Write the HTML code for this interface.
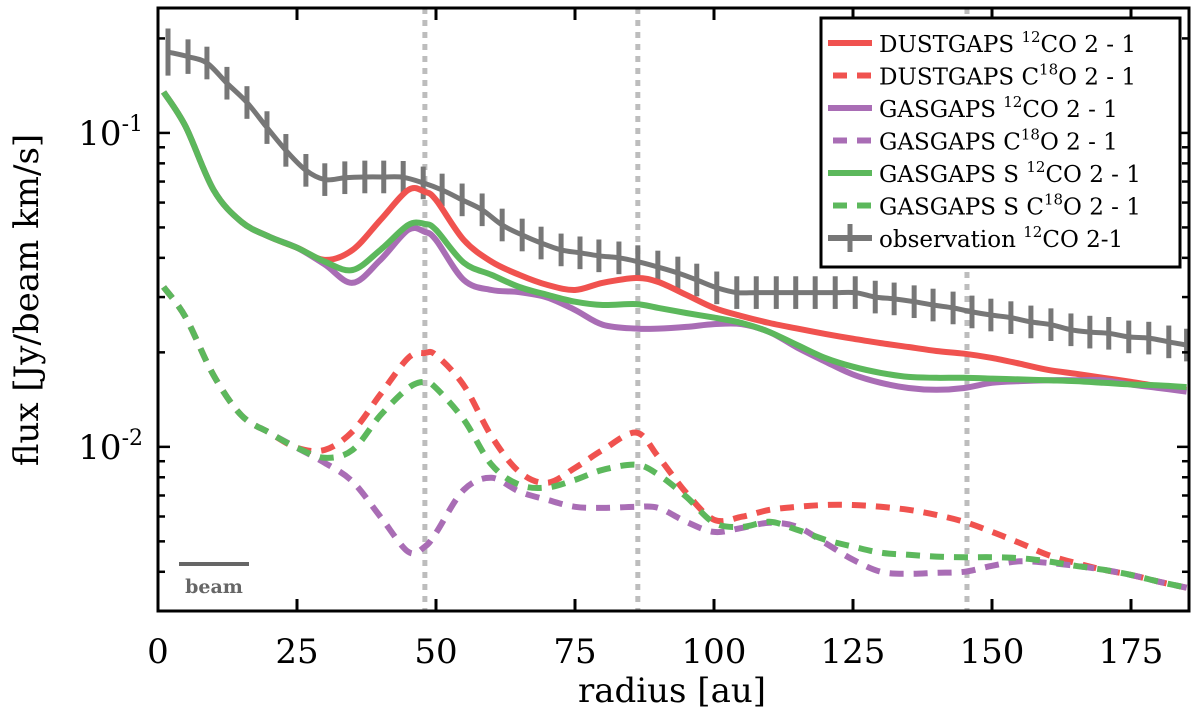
<!DOCTYPE html>
<html><head><meta charset="utf-8"><style>
body{margin:0;background:#fff;}
svg{display:block;font-family:"DejaVu Serif","Liberation Serif",serif;}
</style></head><body>
<svg id="chart" width="1200" height="722" viewBox="0 0 1200 722" xmlns="http://www.w3.org/2000/svg"></svg>
<script>
const radiusGrid = [1,5,10,15,20,25,30,35,40,45,48,50,55,60,65,70,75,80,86,90,95,100,105,110,115,120,125,130,135,140,145,150,155,160,165,170,175,180,185];
const dust12 = [0.135,0.1045,0.0658,0.0521,0.0467,0.0431,0.0394,0.0424,0.0528,0.0658,0.0649,0.0612,0.0456,0.0389,0.0353,0.0328,0.0316,0.0333,0.0345,0.0335,0.0305,0.0277,0.0261,0.0248,0.0238,0.0229,0.0221,0.0214,0.0208,0.0202,0.0198,0.0192,0.0184,0.0176,0.0171,0.0166,0.0161,0.0156,0.0152];
const gas12 = [0.135,0.1045,0.0658,0.0521,0.0467,0.0431,0.0381,0.0333,0.0394,0.0491,0.0484,0.0456,0.0340,0.0316,0.0311,0.0299,0.0273,0.0245,0.0238,0.0238,0.0241,0.0246,0.0246,0.0232,0.0207,0.0187,0.0170,0.0160,0.0154,0.0152,0.0154,0.0160,0.0162,0.0163,0.0163,0.0163,0.0158,0.0154,0.0150];
const gasS12 = [0.135,0.1045,0.0658,0.0521,0.0467,0.0431,0.0389,0.0366,0.0424,0.0509,0.0513,0.0491,0.0386,0.0353,0.0323,0.0305,0.0290,0.0283,0.0285,0.0277,0.0267,0.0258,0.0248,0.0232,0.0211,0.0192,0.0180,0.0172,0.0167,0.0166,0.0166,0.0165,0.0164,0.0163,0.0162,0.0160,0.0158,0.0157,0.0155];
const dust18 = [0.0323,0.0258,0.0169,0.0126,0.0111,0.00993,0.00978,0.0112,0.0147,0.0192,0.0199,0.0196,0.0157,0.0108,0.00832,0.00768,0.00857,0.00978,0.0111,0.00929,0.00714,0.00586,0.00599,0.00630,0.00644,0.00653,0.00653,0.00644,0.00630,0.00607,0.00577,0.00536,0.00494,0.00453,0.00427,0.00406,0.00391,0.00372,0.00356];
const gas18 = [0.0323,0.0258,0.0169,0.0126,0.0111,0.00993,0.00889,0.00775,0.00599,0.00463,0.00481,0.00532,0.00730,0.00797,0.00720,0.00678,0.00644,0.00639,0.00644,0.00639,0.00577,0.00536,0.00552,0.00573,0.00556,0.00494,0.00437,0.00400,0.00394,0.00397,0.00400,0.00418,0.00432,0.00427,0.00418,0.00406,0.00391,0.00372,0.00356];
const gasS18 = [0.0323,0.0258,0.0169,0.0126,0.0111,0.00993,0.00923,0.00978,0.0126,0.0154,0.0161,0.0154,0.0122,0.00877,0.00757,0.00742,0.00785,0.00845,0.00877,0.00815,0.00694,0.00573,0.00556,0.00577,0.00544,0.00506,0.00481,0.00460,0.00453,0.00447,0.00445,0.00445,0.00442,0.00432,0.00418,0.00406,0.00391,0.00372,0.00356];
const obsRadius = [1.8,5.4,8.8,12.4,16,19.6,23,26.6,30,33.6,37.2,40.6,44.1,47.7,51.1,54.7,58.3,61.9,65.5,68.9,72.5,75.9,79.3,82.9,86.3,89.9,93.5,96.9,100.5,104.1,107.6,111.2,114.7,118.2,121.8,125.4,129,132.4,136,139.4,143,146.4,149.8,153.4,157,160.6,164.2,167.6,171,174.6,178.2,181.8,185];
const obsFlux = [0.181,0.175,0.167,0.144,0.125,0.104,0.088,0.076,0.071,0.072,0.0724,0.0724,0.0722,0.0693,0.0658,0.0612,0.0569,0.0509,0.0473,0.0446,0.0424,0.0415,0.0406,0.0400,0.0389,0.0374,0.0358,0.0340,0.0321,0.0310,0.0310,0.0310,0.0310,0.0310,0.0310,0.0310,0.0300,0.0296,0.0290,0.0283,0.0277,0.0269,0.0263,0.0258,0.0250,0.0245,0.0236,0.0232,0.0230,0.0224,0.0222,0.0216,0.0211];
const obsErrDex = [0.075,0.055,0.052,0.052,0.052,0.052,0.052,0.052,0.052,0.052,0.052,0.052,0.052,0.052,0.052,0.052,0.052,0.052,0.052,0.052,0.052,0.052,0.052,0.052,0.052,0.052,0.052,0.052,0.052,0.052,0.052,0.052,0.052,0.052,0.052,0.052,0.052,0.052,0.052,0.052,0.052,0.052,0.052,0.052,0.052,0.052,0.052,0.052,0.052,0.052,0.052,0.052,0.052];
const gapRadii = [48,86.3,145.5];
const xTicks = [0,25,50,75,100,125,150,175];
const yMajor = [0.01,0.1];
const yMajorExp = ["-2","-1"];

const L=158,R=1189,T=8,B=611;
const X0=0,X1=(R-L)/5.56;
const LY0=Math.log10(0.003), LY1=Math.log10(0.25);
const xs=v=>L+(v-X0)/(X1-X0)*(R-L);
const ys=v=>B-(Math.log10(v)-LY0)/(LY1-LY0)*(B-T);
const svg=document.getElementById('chart');
const NS='http://www.w3.org/2000/svg';
function mk(tag,attrs,parent){const e=document.createElementNS(NS,tag);for(const k in attrs)e.setAttribute(k,attrs[k]);(parent||svg).appendChild(e);return e;}

const clip=mk('clipPath',{id:'pc'});mk('rect',{x:L,y:T,width:R-L,height:B-T},clip);
const plot=mk('g',{'clip-path':'url(#pc)'});



gapRadii.forEach((g,i)=>{
  const l=mk('line',{x1:xs(g),x2:xs(g),y1:T,y2:B,stroke:'#bdbdbd','stroke-width':5,'stroke-dasharray':'6 6'},plot);
  
  
});

function path(xa,ya){return xa.map((x,i)=>(i?'L':'M')+xs(x).toFixed(1)+','+ys(ya[i]).toFixed(1)).join('');}
function smooth(xa,ya){
  const p=xa.map((x,i)=>[xs(x),ys(ya[i])]);
  let d='M'+p[0][0].toFixed(1)+','+p[0][1].toFixed(1);
  for(let i=0;i<p.length-1;i++){
    const p0=p[Math.max(0,i-1)],p1=p[i],p2=p[i+1],p3=p[Math.min(p.length-1,i+2)];
    const c1=[p1[0]+(p2[0]-p0[0])/6,p1[1]+(p2[1]-p0[1])/6];
    const c2=[p2[0]-(p3[0]-p1[0])/6,p2[1]-(p3[1]-p1[1])/6];
    d+='C'+c1[0].toFixed(1)+','+c1[1].toFixed(1)+' '+c2[0].toFixed(1)+','+c2[1].toFixed(1)+' '+p2[0].toFixed(1)+','+p2[1].toFixed(1);
  }
  return d;
}

// observation
const og=mk('g',{},plot);


mk('path',{d:smooth(obsRadius,obsFlux),fill:'none',stroke:'#777','stroke-width':5,'stroke-linejoin':'round'},og);
obsRadius.forEach((r,i)=>{
  const e=mk('line',{x1:xs(r),x2:xs(r),y1:ys(obsFlux[i]*Math.pow(10,obsErrDex[i])),y2:ys(obsFlux[i]/Math.pow(10,obsErrDex[i])),stroke:'#777','stroke-width':5},og);
  
  
});

const series=[
 ['dustgaps-12co-line',dust12,'#f0524f',null],
 ['gasgaps-12co-line',gas12,'#a96db5',null],
 ['gasgaps-s-12co-line',gasS12,'#5cb85c',null],
 ['dustgaps-c18o-line',dust18,'#f0524f','14 10'],
 ['gasgaps-c18o-line',gas18,'#a96db5','14 10'],
 ['gasgaps-s-c18o-line',gasS18,'#5cb85c','14 10']];
const order=[0,1,2,3,4,5];
order.forEach(k=>{const s=series[k];
  const p=mk('path',{d:smooth(radiusGrid,s[1]),fill:'none',stroke:s[2],'stroke-width':6,'stroke-linejoin':'round'},plot);
  if(s[3])p.setAttribute('stroke-dasharray',s[3]);
  
  
});

// beam
const bl=mk('line',{x1:179,x2:249,y1:564,y2:564,stroke:'#666','stroke-width':4});


const bt=mk('text',{x:214,y:593,'text-anchor':'middle','font-size':19,'font-weight':'bold',fill:'#666'});bt.textContent='beam';



// axes frame
const fr=mk('rect',{x:L,y:T,width:R-L,height:B-T,fill:'none',stroke:'#000','stroke-width':3});


xTicks.forEach(t=>{const x=xs(t);
  mk('line',{x1:x,x2:x,y1:B,y2:B-12,stroke:'#000','stroke-width':3});
  mk('line',{x1:x,x2:x,y1:T,y2:T+12,stroke:'#000','stroke-width':3});
  const tx=mk('text',{x:x,y:663,'text-anchor':'middle','font-size':34});tx.textContent=t;
  
  
});
for(let d=-3;d<=-1;d++){for(let m=1;m<=9;m++){const v=m*Math.pow(10,d);if(v<0.003||v>0.25)continue;const y=ys(v);const len=m===1?12:7;
  mk('line',{x1:L,x2:L+len,y1:y,y2:y,stroke:'#000','stroke-width':2.5});
  mk('line',{x1:R,x2:R-len,y1:y,y2:y,stroke:'#000','stroke-width':2.5});}}
yMajor.forEach((v,i)=>{
  const tx=mk('text',{x:143,y:ys(v)+12,'text-anchor':'end','font-size':34});
  tx.appendChild(document.createTextNode('10'));
  const sp=mk('tspan',{'font-size':22,dy:-14},tx);sp.textContent=yMajorExp[i];
  
  
});
const xl=mk('text',{x:672,y:702,'text-anchor':'middle','font-size':34});xl.textContent='radius [au]';


const yl=mk('text',{x:0,y:0,'text-anchor':'middle','font-size':34,transform:'translate(38,300) rotate(-90)'});yl.textContent='flux [Jy/beam km/s]';



// legend
const lg=mk('g',{});


mk('rect',{x:821,y:18,width:359,height:249,fill:'#fff',stroke:'#000','stroke-width':3},lg);
const items=[['DUSTGAPS ','12','CO 2 - 1','#f0524f',0],['DUSTGAPS C','18','O 2 - 1','#f0524f',1],['GASGAPS ','12','CO 2 - 1','#a96db5',0],['GASGAPS C','18','O 2 - 1','#a96db5',1],['GASGAPS S ','12','CO 2 - 1','#5cb85c',0],['GASGAPS S C','18','O 2 - 1','#5cb85c',1],['observation ','12','CO 2-1','#777',2]];
items.forEach((it,i)=>{const y=43+i*32.5;
  const ge=mk('g',{},lg);
  
  
  if(it[4]===1){mk('line',{x1:831,x2:871,y1:y,y2:y,stroke:it[3],'stroke-width':6,'stroke-dasharray':'14 10','stroke-dashoffset':-2},ge);}
  else mk('line',{x1:828,x2:872,y1:y,y2:y,stroke:it[3],'stroke-width':6},ge);
  if(it[4]===2)mk('line',{x1:850,x2:850,y1:y-14,y2:y+14,stroke:it[3],'stroke-width':5},ge);
  const t=mk('text',{x:879,y:y+9,'font-size':23},ge);
  t.appendChild(document.createTextNode(it[0]));
  const s=mk('tspan',{'font-size':15,dy:-10},t);s.textContent=it[1];
  const r=mk('tspan',{dy:10},t);r.textContent=it[2];
});
</script>
</body></html>
